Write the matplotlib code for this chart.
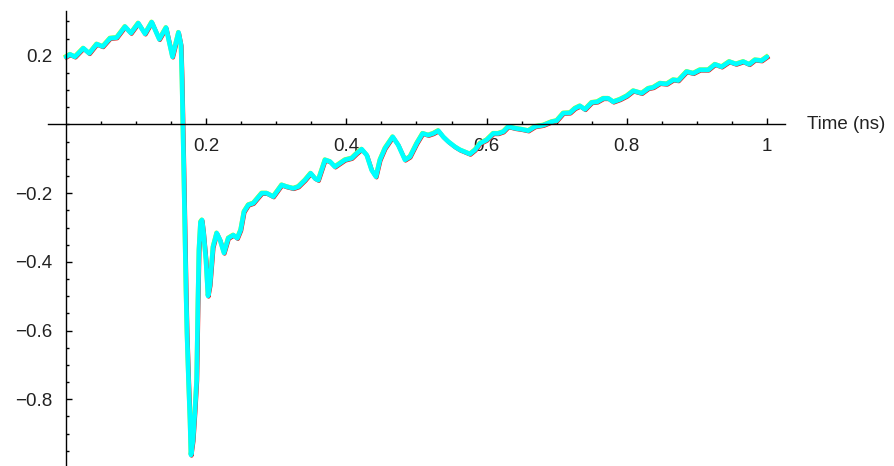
import numpy as np
import matplotlib.pyplot as plt
import matplotlib.transforms as mtransforms

# signal (time in ns, amplitude)
t = [0.0, 0.0057, 0.0128, 0.0247, 0.0332, 0.0438, 0.0524, 0.0628, 0.0723, 0.0842,
     0.0927, 0.1031, 0.1127, 0.1223, 0.1331, 0.1427, 0.1519, 0.1605, 0.1641, 0.1655,
     0.1669, 0.1683, 0.1698, 0.1712, 0.1726, 0.1748, 0.1769, 0.1783, 0.1812, 0.1840,
     0.1864, 0.1883, 0.1897, 0.1919, 0.1940, 0.1961, 0.1997, 0.2026, 0.2054, 0.2097,
     0.2150, 0.2197, 0.2254, 0.2315, 0.2387, 0.2444, 0.2492, 0.2539, 0.2601, 0.2672,
     0.2792, 0.2863, 0.2957, 0.3077, 0.3148, 0.3243, 0.3314, 0.3409, 0.3491, 0.3552,
     0.3599, 0.3695, 0.3766, 0.3837, 0.3909, 0.3980, 0.4076, 0.4147, 0.4218, 0.4290,
     0.4361, 0.4422, 0.4479, 0.4551, 0.4661, 0.4740, 0.4836, 0.4907, 0.5003, 0.5088,
     0.5168, 0.5240, 0.5311, 0.5382, 0.5454, 0.5549, 0.5621, 0.5763, 0.5835, 0.5906,
     0.6001, 0.6096, 0.6167, 0.6238, 0.6310, 0.6405, 0.6501, 0.6595, 0.6690, 0.6809,
     0.6929, 0.7000, 0.7094, 0.7190, 0.7261, 0.7332, 0.7404, 0.7499, 0.7579, 0.7665,
     0.7736, 0.7808, 0.7903, 0.7999, 0.8093, 0.8213, 0.8307, 0.8378, 0.8474, 0.8570,
     0.8663, 0.8735, 0.8854, 0.8949, 0.9044, 0.9163, 0.9258, 0.9354, 0.9462, 0.9558,
     0.9662, 0.9748, 0.9829, 0.9924, 1.0]
v = [0.197, 0.204, 0.197, 0.222, 0.207, 0.234, 0.227, 0.251, 0.253, 0.285,
     0.266, 0.295, 0.264, 0.298, 0.248, 0.282, 0.197, 0.268, 0.231, 0.130,
     -0.016, -0.162, -0.336, -0.482, -0.607, -0.744, -0.860, -0.962, -0.919, -0.831,
     -0.744, -0.511, -0.365, -0.284, -0.278, -0.313, -0.395, -0.499, -0.467, -0.357,
     -0.316, -0.336, -0.374, -0.331, -0.322, -0.331, -0.307, -0.254, -0.234, -0.229,
     -0.200, -0.200, -0.210, -0.176, -0.181, -0.186, -0.181, -0.162, -0.142, -0.157,
     -0.162, -0.103, -0.108, -0.123, -0.113, -0.103, -0.098, -0.084, -0.072, -0.089,
     -0.133, -0.152, -0.103, -0.069, -0.036, -0.060, -0.103, -0.094, -0.055, -0.026,
     -0.031, -0.026, -0.018, -0.036, -0.050, -0.065, -0.074, -0.086, -0.074, -0.055,
     -0.045, -0.026, -0.026, -0.021, -0.006, -0.011, -0.014, -0.018, -0.006, -0.002,
     0.008, 0.011, 0.033, 0.034, 0.047, 0.054, 0.044, 0.064, 0.066, 0.076,
     0.076, 0.066, 0.073, 0.083, 0.098, 0.091, 0.105, 0.108, 0.120, 0.118,
     0.130, 0.128, 0.154, 0.149, 0.159, 0.159, 0.175, 0.168, 0.183, 0.176,
     0.183, 0.175, 0.188, 0.186, 0.197]

xticks = [0.2, 0.4, 0.6, 0.8, 1]
xlabels = ['0.2', '0.4', '0.6', '0.8', '1']
yticks = [-0.8, -0.6, -0.4, -0.2, 0.2]
ylabels = ['\u22120.8', '\u22120.6', '\u22120.4', '\u22120.2', '0.2']

plt.rcParams['font.family'] = ['Liberation Sans', 'DejaVu Sans']

fig = plt.figure(figsize=(8.95, 4.66), dpi=100)
ax = fig.add_axes([48 / 895, 0.0, 737 / 895, 455 / 466])

# overlapping traces, shifted a little so the lower ones just peek out
dpi_tr = fig.dpi_scale_trans
red_off = ax.transData + mtransforms.ScaledTranslation(0.6 / 100, -0.8 / 100, dpi_tr)
yel_off = ax.transData + mtransforms.ScaledTranslation(-0.4 / 100, 0.6 / 100, dpi_tr)
ax.plot(t, v, color='red', lw=2.8, transform=red_off, solid_joinstyle='round')
ax.plot(t, v, color='#c8ff00', lw=2.8, transform=yel_off, solid_joinstyle='round')
ax.plot(t, v, color='#00ffff', lw=3.4, solid_joinstyle='round', solid_capstyle='round')

ax.set_xlim(-0.0257, 1.0257)
ax.set_ylim(-0.9942, 0.3304)

for s in ['top', 'right']:
    ax.spines[s].set_visible(False)
ax.spines['left'].set_position(('data', 0))
ax.spines['bottom'].set_position(('data', 0))
ax.spines['left'].set_linewidth(1.0)
ax.spines['bottom'].set_linewidth(1.0)
ax.patch.set_visible(False)

ax.set_xticks(xticks)
ax.set_xticklabels(xlabels)
ax.set_yticks(yticks)
ax.set_yticklabels(ylabels)
ax.set_xticks(np.arange(0.05, 1.0, 0.05), minor=True)
ax.set_yticks(np.arange(-0.95, 0.31, 0.05), minor=True)
ax.tick_params(which='major', direction='in', length=4, width=1, labelsize=13.5, pad=10, colors='black')
ax.tick_params(which='minor', direction='in', length=2.5, width=1)
ax.tick_params(axis='x', labelcolor='#222222')
ax.tick_params(axis='y', labelcolor='#222222')

ax.text(1.057, 0, 'Time (ns)', fontsize=13.5, va='center', ha='left', color='#222222', clip_on=False)

fig.savefig('out.png', dpi=100)
